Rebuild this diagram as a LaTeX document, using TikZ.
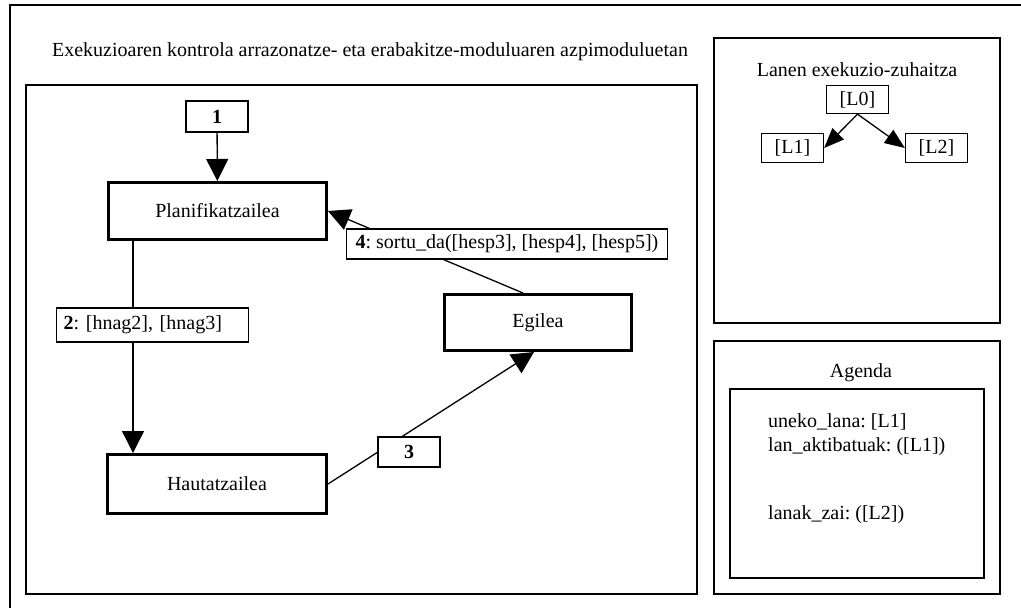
\documentclass[tikz,border=0pt]{standalone}
\usepackage{fontspec}
\setmainfont{Liberation Serif}
\usetikzlibrary{arrows.meta}
\frenchspacing

\begin{document}
\begin{tikzpicture}[x=1pt,y=-1pt,
  txt/.style={font=\fontsize{20}{24}\selectfont, inner sep=0pt},
  frame/.style={draw, line width=2pt},
  proc/.style={draw, line width=3pt, inner sep=0pt, font=\fontsize{20}{24}\selectfont},
  tag/.style={draw, fill=white, line width=1.3pt, inner sep=0pt, font=\fontsize{20}{24}\selectfont},
  flow/.style={line width=1.3pt, -{Triangle[length=22pt,width=22pt]}},
  tree/.style={line width=1.3pt, -{Triangle[length=20pt,width=16pt]}},
  link/.style={line width=1.3pt}]
\useasboundingbox (0,0) rectangle (1021,608);

% outer frame, open to the right and bottom
\draw[frame] (10,608) -- (10,5) -- (1021,5);

% panels
\draw[frame] (26,85) rectangle (697,594);
\draw[frame] (714,38) rectangle (1000,323);
\draw[frame] (714,341) rectangle (1000,594);
\draw[frame] (730,389) rectangle (984,578);

\node[txt] (title) at (370,52) {Exekuzioaren kontrola arrazonatze- eta erabakitze-moduluaren azpimoduluetan};

% sub-modules
\node[proc, minimum width=218pt, minimum height=57pt] (plan) at (217.5,211) {Planifikatzailea};
\node[proc, minimum width=219pt, minimum height=59pt] (haut) at (217,484) {Hautatzailea};
\node[proc, minimum width=187pt, minimum height=56pt] (egilea) at (538,322.5) {Egilea};

\node[tag, minimum width=62pt, minimum height=31pt] (t1) at (217,116.5) {\textbf{1}};
\draw[flow] (t1) -- (plan);

\coordinate (col) at (133,0);
\draw[flow] (plan.south -| col) -- (haut.north -| col);

\coordinate (e3) at ([xshift=-4pt]egilea.south);
\draw[flow] (haut.east) -- (e3);

\coordinate (e4) at ([xshift=-15pt]egilea.north);
\draw[flow] (e4) -- (plan.east);

\node[tag, minimum width=192pt, minimum height=34pt, anchor=west, text width=178pt, inner xsep=7pt, align=left] (t2) at (56,325) {\textbf{2}: [hnag2], [hnag3]};
\node[tag, minimum width=62pt, minimum height=30pt] (t3) at (409,452) {\textbf{3}};
\node[tag, minimum height=30pt, inner xsep=9pt, anchor=west] (t4) at (346,244) {\textbf{4}: sortu\_da([hesp3], [hesp4], [hesp5])};

% execution tree
\node[txt] (treetitle) at (857,70) {Lanen exekuzio-zuhaitza};
\node[tag, minimum width=62pt, minimum height=28pt] (l0) at (857.5,99.5) {[L0]};
\node[tag, minimum width=62pt, minimum height=29pt] (l1) at (792.5,148) {[L1]};
\node[tag, minimum width=62pt, minimum height=29pt] (l2) at (936.5,148) {[L2]};
\draw[tree] (l0.south) -- (l1.east);
\draw[tree] (l0.south) -- (l2.west);

% agenda
\node[txt] (agenda) at (861,373) {Agenda};
\node[txt, anchor=west] (a1) at (768,422) {uneko\_lana: [L1]};
\node[txt, anchor=west] (a2) at (768,447) {lan\_aktibatuak: ([L1])};
\node[txt, anchor=west] (a3) at (768,515) {lanak\_zai: ([L2])};
\end{tikzpicture}
\end{document}
